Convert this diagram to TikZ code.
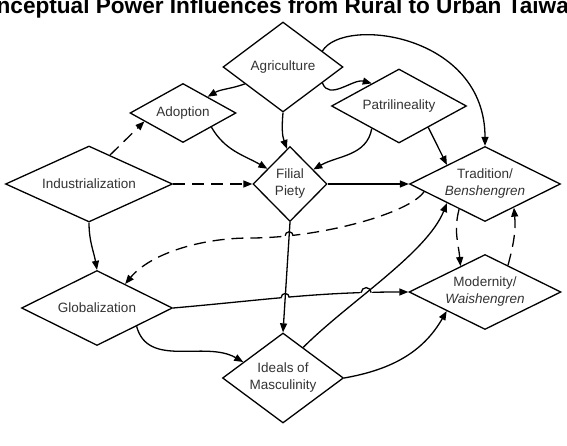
\documentclass[tikz,border=0pt]{standalone}
\usepackage{fontspec}
\setmainfont{Liberation Sans}
\usepackage{xcolor}
\usepackage{tikz}
\usetikzlibrary{arrows.meta,shapes.geometric,calc,intersections}
\definecolor{labelgray}{RGB}{51,51,51}
\pgfdeclarelayer{front}
\pgfsetlayers{main,front}

\begin{document}
\begin{tikzpicture}[x=1pt, y=1pt,
  concept/.style={diamond, draw, fill=white, line width=1.3pt, inner sep=0pt, align=center, text=labelgray, font=\fontsize{13.5}{17}\selectfont},
  link/.style={line width=1.3pt, -{Triangle[length=9pt,width=7pt]}},
  weak/.style={link, dash pattern=on 12pt off 7pt},
  halo/.style={preaction={draw=white, line width=7pt, -}}]
\useasboundingbox (0,0) rectangle (567,-446);
\clip (0,0) rectangle (567,-446);
\node[anchor=base west, font=\fontsize{22.6}{27}\selectfont\bfseries] (title) at (-37,-14) {Conceptual Power Influences from Rural to Urban Taiwan};
\begin{pgfonlayer}{front}
\node[concept, minimum width=120pt, minimum height=90pt, aspect=1.33] (agriculture) at (283,-67) {Agriculture};
\node[concept, minimum width=106pt, minimum height=59pt, aspect=1.8] (adoption) at (183,-113) {Adoption};
\node[concept, minimum width=135pt, minimum height=74pt, aspect=1.82] (patrilineality) at (399,-106) {Patrilineality};
\node[concept, minimum width=167pt, minimum height=76pt, aspect=2.2] (industrialization) at (89,-184) {Industrialization};
\node[concept, minimum width=74pt, minimum height=75pt, aspect=1] (piety) at (290,-184) {Filial\\Piety};
\node[concept, minimum width=151pt, minimum height=75pt, aspect=2] (tradition) at (485,-184) {Tradition/\\\textit{Benshengren}};
\node[concept, minimum width=151pt, minimum height=75pt, aspect=2] (globalization) at (97,-308) {Globalization};
\node[concept, minimum width=152pt, minimum height=75pt, aspect=2] (modernity) at (485,-292) {Modernity/\\\textit{Waishengren}};
\node[concept, minimum width=121pt, minimum height=90pt, aspect=1.34] (ideals) at (283,-378) {Ideals of\\Masculinity};
\end{pgfonlayer}
\coordinate (dip) at (250,-238);
\draw[link] ($(agriculture.west)!0.37!(agriculture.south)$) to[out=200,in=30] ($(adoption.north)!0.46!(adoption.east)$);
\draw[link] ($(agriculture.east)!0.35!(agriculture.south)$) to[out=-70,in=165] ($(patrilineality.north)!0.4!(patrilineality.west)$);
\draw[link] ($(agriculture.north)!0.65!(agriculture.east)$) .. controls +(21,35) and +(0,112) .. (tradition.north);
\draw[link] (agriculture.south) to[out=-95,in=110] ($(piety.north)!0.08!(piety.west)$);
\draw[link] ($(adoption.east)!0.47!(adoption.south)$) to[out=-60,in=150] ($(piety.west)!0.4!(piety.north)$);
\draw[weak] ($(industrialization.north)!0.25!(industrialization.east)$) -- ($(adoption.west)!0.28!(adoption.south)$);
\draw[weak] (industrialization.east) -- (piety.west);
\draw[link] ($(patrilineality.west)!0.6!(patrilineality.south)$) to[out=-100,in=30] ($(piety.north)!0.62!(piety.east)$);
\draw[link] ($(patrilineality.east)!0.57!(patrilineality.south)$) -- ($(tradition.north)!0.5!(tradition.west)$);
\draw[link] (piety.east) -- (tradition.west);
\draw[link] (industrialization.south) to[out=-90,in=100] (globalization.north);
\draw[weak, name path=backlink] ($(tradition.west)!0.2!(tradition.south)$) .. controls +(-15,-22) and +(70,0) .. (dip) .. controls +(-50,0) and +(25,30) .. ($(globalization.north)!0.37!(globalization.east)$);
\draw[link, name path=crossing] (globalization.east) to[out=5,in=180] (modernity.west);
\draw[link, halo, name path=pietydown] (piety.south) -- (ideals.north);
\draw[link] ($(globalization.east)!0.48!(globalization.south)$) to[out=-75,in=150] ($(ideals.west)!0.35!(ideals.north)$);
\draw[link, halo, name path=rise] ($(ideals.north)!0.33!(ideals.east)$) .. controls +(45,45) and +(-20,-50) .. ($(tradition.west)!0.5!(tradition.south)$);
\draw[link] (ideals.east) to[out=10,in=-120] ($(modernity.west)!0.5!(modernity.south)$);
\draw[weak] ($(tradition.west)!0.66!(tradition.south)$) to[out=-105,in=95] ($(modernity.north)!0.32!(modernity.west)$);
\draw[weak] ($(modernity.north)!0.3!(modernity.east)$) to[out=75,in=-85] ($(tradition.south)!0.38!(tradition.east)$);
\path[name intersections={of=backlink and pietydown, by=jumpa}];
\path[name intersections={of=crossing and pietydown, by=jumpb}];
\path[name intersections={of=crossing and rise, by=jumpc}];
\draw[line width=1.3pt] ([xshift=-4pt]jumpa) arc[start angle=180, end angle=0, radius=4pt];
\draw[line width=1.3pt] ([xshift=-4pt]jumpb) arc[start angle=180, end angle=0, radius=4pt];
\draw[line width=1.3pt] ([xshift=-5pt]jumpc) arc[start angle=180, end angle=0, radius=5pt];
\end{tikzpicture}
\end{document}
